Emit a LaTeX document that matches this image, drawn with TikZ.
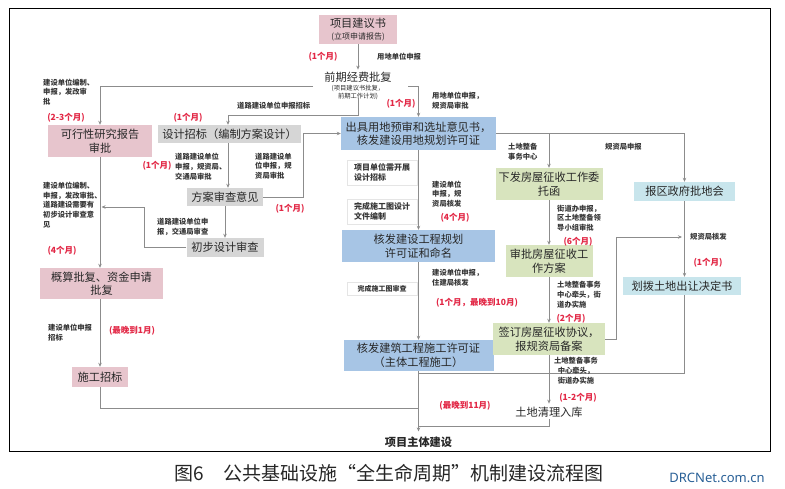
\documentclass[tikz,border=0pt]{standalone}
\usepackage{fontspec}
\setmainfont{Noto Sans CJK SC}
\newfontfamily\webfont{Noto Sans}
\usetikzlibrary{arrows.meta}
\definecolor{pinkc}{RGB}{231,197,205}
\definecolor{grayc}{RGB}{214,214,214}
\definecolor{bluec}{RGB}{167,197,229}
\definecolor{greenc}{RGB}{216,228,190}
\definecolor{cyanc}{RGB}{200,229,236}
\definecolor{linec}{RGB}{140,140,140}
\definecolor{txtc}{RGB}{40,40,40}
\definecolor{labc}{RGB}{55,55,55}
\definecolor{redc}{RGB}{226,40,70}
\definecolor{webc}{RGB}{40,95,150}
\begin{document}
\begin{tikzpicture}[x=1pt,y=-1pt,
  nb/.style={inner sep=0pt, align=center, text=txtc, font=\fontsize{11.2}{13.5}\selectfont},
  pinkb/.style={nb, fill=pinkc},
  grayb/.style={nb, fill=grayc},
  blueb/.style={nb, fill=bluec},
  greenb/.style={nb, fill=greenc},
  cyanb/.style={nb, fill=cyanc},
  whiteb/.style={inner sep=0pt, align=left, fill=white, draw=black!10, line width=0.5pt, text=labc, font=\fontsize{8}{10.5}\selectfont\bfseries},
  lab/.style={inner sep=0pt, align=left, anchor=west, text=labc, font=\fontsize{7.3}{9.8}\selectfont\bfseries},
  redl/.style={inner sep=0pt, text=redc, font=\fontsize{8.5}{10}\selectfont\bfseries},
  conn/.style={draw=linec, line width=0.8pt},
  arr/.style={conn, -{Stealth[length=4pt,width=3.5pt]}}
]
\useasboundingbox (0,0) rectangle (785,489);
\draw[black, line width=0.9pt] (9,8) rectangle (770,451);

% boxes
\node[pinkb, minimum width=78pt, minimum height=29pt] (jyjs) at (358,29.5) {项目建议书\\[-1pt]{\fontsize{8}{10}\selectfont (立项申请报告)}};
\node[nb] (qqjf) at (358,77) {前期经费批复};
\node[nb, font=\fontsize{6.3}{7.5}\selectfont] (qqsub) at (358,92.5) {(项目建议书批复，\\前期工作计划)};
\node[pinkb, minimum width=104pt, minimum height=32pt] (kxx) at (100,141) {可行性研究报告\\审批};
\node[grayb, minimum width=143pt, minimum height=18pt] (sjzb) at (229.5,134) {设计招标（编制方案设计）};
\node[grayb, minimum width=76pt, minimum height=18pt] (faxc) at (225,197) {方案审查意见};
\node[grayb, minimum width=77pt, minimum height=19pt] (cbsj) at (225,247.5) {初步设计审查};
\node[pinkb, minimum width=123pt, minimum height=31pt] (gsp) at (101.5,283.5) {概算批复、资金申请\\批复};
\node[pinkb, minimum width=56pt, minimum height=20pt] (sgzb) at (100,377) {施工招标};
\node[blueb, minimum width=155pt, minimum height=33pt] (cjyd) at (418.5,133.5) {出具用地预审和选址意见书，\\核发建设用地规划许可证};
\node[blueb, minimum width=153pt, minimum height=32pt] (hfgh) at (418.5,246) {核发建设工程规划\\许可证和命名};
\node[blueb, minimum width=150pt, minimum height=31pt] (hfjz) at (418.5,355.5) {核发建筑工程施工许可证\\（主体工程施工）};
\node[greenb, minimum width=107pt, minimum height=32pt] (xffw) at (549,184) {下发房屋征收工作委\\托函};
\node[greenb, minimum width=87pt, minimum height=32pt] (spfw) at (549,261) {审批房屋征收工\\作方案};
\node[greenb, minimum width=112pt, minimum height=32pt] (qdfw) at (549,339) {签订房屋征收协议，\\报规资局备案};
\node[nb] (tdql) at (549,412) {土地清理入库};
\node[cyanb, minimum width=101pt, minimum height=19pt] (bqzf) at (684.5,191.5) {报区政府批地会};
\node[cyanb, minimum width=118pt, minimum height=18pt] (hbtd) at (682,286) {划拨土地出让决定书};
\node[nb, font=\fontsize{11.2}{13.5}\selectfont\bfseries] (xmzt) at (418.5,442) {项目主体建设};
\node[whiteb, minimum width=70pt, minimum height=25pt] (wb1) at (382,172.5) {项目单位需开展\\设计招标};
\node[whiteb, minimum width=70pt, minimum height=25pt] (wb2) at (382,211.5) {完成施工图设计\\文件编制};
\node[whiteb, minimum width=70pt, minimum height=13pt, font=\fontsize{7}{9}\selectfont\bfseries] (wb3) at (382,288.5) {完成施工图审查};

% connector points
\coordinate (qL) at (313,86);
\coordinate (qR) at (408,86);
\coordinate (qB) at (358,98);
\coordinate (jn1) at (418.5,408);
\coordinate (jn2) at (418.5,426);
\coordinate (jn3) at (682,237);
\coordinate (jn4) at (418.5,373);
\coordinate (jn5) at (101.5,207);

% connectors
\draw[arr] (jyjs.south) -- ([yshift=2pt]qqjf.north);
\draw[arr] (qL) -| (kxx.north);
\draw[arr] (qR) -| (cjyd.north);
\draw[arr] (qB) -- ++(0,17) -| ([xshift=-1.5pt]sjzb.north);
\draw[arr] ([xshift=-1.5pt]sjzb.south) -- ([xshift=-1.5pt]sjzb.south |- faxc.north);
\draw[arr] (faxc.east) -- ++(40,0) |- (cjyd.west);
\draw[arr] (faxc.south) -- (cbsj.north);
\draw[arr] (cbsj.west) -- ++(-42,0) |- (jn5);
\draw[arr] (kxx.south) -- (kxx.south |- gsp.north);
\draw[arr] (kxx.south |- gsp.south) -- (sgzb.north);
\draw[conn] (sgzb.south) |- (jn1);
\draw[arr] (cjyd.south) -- (hfgh.north);
\draw[arr] (hfgh.south) -- (hfjz.north);
\draw[arr] (hfjz.south) -- ([yshift=5pt]xmzt.north);
\draw[arr] (cjyd.east) -| (bqzf.north);
\draw[arr] (xffw.north |- cjyd.east) -- (xffw.north);
\draw[arr] (xffw.south) -- (spfw.north);
\draw[arr] (spfw.south) -- (qdfw.north);
\draw[arr] (qdfw.south) -- ([yshift=3pt]tdql.north);
\draw[conn] ([yshift=-2pt]tdql.south) |- (jn2);
\draw[arr] (qdfw.east) -- ++(11,0) |- (jn3);
\draw[arr] (bqzf.south) -- (bqzf.south |- hbtd.north);
\draw[conn] (bqzf.south |- hbtd.south) |- (jn4);

% labels
\node[lab] (l1) at (377,57) {用地单位申报};
\node[lab] (l2) at (43,92) {建设单位编制、\\申报，发改审\\批};
\node[lab] (l3) at (237,106) {道路建设单位申报招标};
\node[lab] (l4) at (432,101) {用地单位申报，\\规资局审批};
\node[lab] (l5) at (175,166.5) {道路建设单位\\申报，规资局、\\交通局审批};
\node[lab] (l6) at (255,166) {道路建设单\\位申报，规\\资局审批};
\node[lab] (l7) at (508,152) {土地整备\\事务中心};
\node[lab] (l8) at (605,147) {规资局申报};
\node[lab] (l9) at (43,205) {建设单位编制、\\申报，发改审批、\\道路建设需要有\\初步设计审查意\\见};
\node[lab] (l10) at (157,226.5) {道路建设单位申\\报，交通局审查};
\node[lab] (l11) at (432,194) {建设单位\\申报，规\\资局核发};
\node[lab] (l12) at (557,218) {街道办申报，\\区土地整备领\\导小组审批};
\node[lab] (l13) at (432,277.5) {建设单位申报，\\住建局核发};
\node[lab] (l14) at (557,295) {土地整备事务\\中心牵头，街\\道办实施};
\node[lab] (l15) at (48,332.5) {建设单位申报\\招标};
\node[lab, align=center, anchor=center] (l16) at (576,370.5) {土地整备事务\\中心牵头，\\街道办实施};
\node[lab] (l17) at (690,237) {规资局核发};

% red durations
\node[redl] (r1) at (323,57) {(1个月)};
\node[redl] (r2) at (66,118) {(2-3个月)};
\node[redl] (r3) at (188,118) {(1个月)};
\node[redl] (r4) at (157,166) {(1个月)};
\node[redl] (r5) at (401,104) {(1个月)};
\node[redl] (r6) at (290,209) {(1个月)};
\node[redl] (r7) at (62,251) {(4个月)};
\node[redl] (r8) at (455,218) {(4个月)};
\node[redl] (r9) at (578,242) {(6个月)};
\node[redl] (r10) at (477,303) {(1个月，最晚到10月)};
\node[redl] (r11) at (132,331) {(最晚到1月)};
\node[redl] (r12) at (571,319) {(2个月)};
\node[redl] (r13) at (578,398) {(1-2个月)};
\node[redl] (r14) at (465,406) {(最晚到11月)};
\node[redl] (r15) at (708,263) {(1个月)};

% caption
\node[inner sep=0pt, text=black!85, font=\fontsize{19}{21}\selectfont] (cap) at (389,473) {图6\quad 公共基础设施“全生命周期”机制建设流程图};
\node[inner sep=0pt, text=webc, font=\webfont\fontsize{13}{15}\selectfont] (web) at (717,478) {DRCNet.com.cn};
\end{tikzpicture}
\end{document}
